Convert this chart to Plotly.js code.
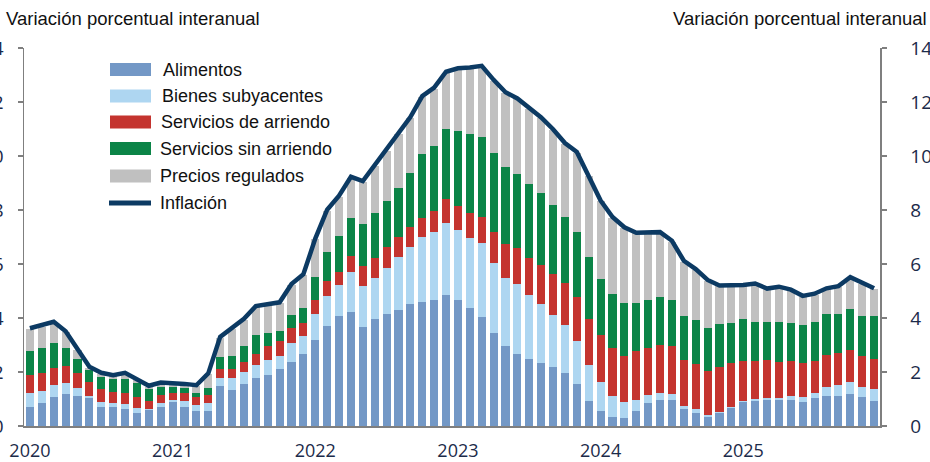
<!DOCTYPE html>
<html><head><meta charset="utf-8">
<script src="https://cdn.plot.ly/plotly-3.0.1.min.js"></script>
<style>html,body{margin:0;padding:0;background:#fff;}#chart{width:930px;height:462px;}</style>
</head><body><div id="chart"></div>
<script>
const anios = ['2020','2021','2022','2023','2024','2025'];
const numMeses = ['01','02','03','04','05','06','07','08','09','10','11','12'];
const meses = anios.flatMap(a => numMeses.map(m => a + '-' + m));

const alimentos = [0.72,0.85,1.06,1.20,1.12,1.03,0.72,0.69,0.62,0.49,0.59,0.72,
 0.88,0.72,0.57,0.57,1.48,1.33,1.55,1.77,1.90,2.10,2.38,2.67,
 3.17,3.72,4.07,4.23,3.66,3.95,4.16,4.31,4.52,4.60,4.67,4.85,
 4.67,4.37,4.02,3.46,2.96,2.68,2.47,2.32,2.17,1.98,1.55,0.94,
 0.56,0.35,0.28,0.56,0.84,0.97,0.97,0.63,0.50,0.32,0.47,0.65,
 0.90,0.94,0.96,0.96,0.96,0.90,1.02,1.11,1.11,1.19,1.06,0.94];
const bienes = [0.49,0.46,0.46,0.40,0.28,0.09,0.18,0.17,0.18,0.16,0.05,0.14,
 0.08,0.22,0.20,0.27,0.31,0.44,0.46,0.49,0.55,0.51,0.71,0.66,
 0.99,1.09,1.15,1.46,1.54,1.52,1.68,1.94,2.10,2.39,2.53,2.68,
 2.59,2.61,2.75,2.59,2.53,2.58,2.37,2.20,1.94,1.76,1.60,1.32,
 1.06,0.76,0.60,0.41,0.29,0.27,0.23,0.12,0.12,0.09,0.06,0.04,
 0.04,0.05,0.06,0.09,0.15,0.16,0.19,0.35,0.41,0.45,0.40,0.42];
const arriendo = [0.67,0.67,0.63,0.63,0.55,0.50,0.46,0.41,0.41,0.41,0.29,0.29,
 0.25,0.27,0.29,0.30,0.31,0.33,0.37,0.42,0.50,0.54,0.53,0.48,
 0.51,0.56,0.47,0.62,0.73,0.74,0.78,0.76,0.74,0.73,0.76,0.87,
 0.89,0.90,0.98,1.15,1.24,1.34,1.37,1.44,1.52,1.54,1.62,1.69,
 1.74,1.78,1.72,1.81,1.77,1.75,1.75,1.70,1.69,1.64,1.64,1.63,
 1.48,1.41,1.42,1.32,1.29,1.26,1.21,1.18,1.17,1.17,1.13,1.13];
const sinArriendo = [0.90,0.91,0.91,0.67,0.52,0.45,0.47,0.46,0.52,0.52,0.44,0.31,
 0.25,0.19,0.15,0.28,0.47,0.49,0.57,0.69,0.51,0.37,0.48,0.55,
 0.84,1.06,1.36,1.38,1.55,1.69,1.71,1.82,2.02,2.34,2.41,2.60,
 2.79,2.92,2.97,2.90,2.85,2.73,2.74,2.66,2.56,2.47,2.43,2.32,
 2.10,2.00,1.95,1.76,1.76,1.78,1.70,1.63,1.63,1.59,1.61,1.48,
 1.53,1.46,1.42,1.49,1.43,1.43,1.44,1.51,1.46,1.52,1.48,1.58];
const regulados = [0.80,0.79,0.76,0.57,0.34,0.09,0.11,0.12,0.21,0.14,0.09,0.12,
 0.11,0.13,0.27,0.50,0.70,1.01,0.99,1.04,1.02,1.03,1.13,1.23,
 1.40,1.55,1.45,1.51,1.56,1.74,1.85,1.98,2.03,2.13,2.13,2.09,
 2.28,2.45,2.59,2.69,2.75,2.77,2.80,2.78,2.77,2.70,2.92,2.98,
 2.86,2.82,2.78,2.59,2.47,2.38,2.18,2.01,1.84,1.74,1.39,1.37,
 1.24,1.39,1.20,1.27,1.19,1.04,1.01,0.92,1.00,1.15,1.20,1.00];
const inflacion = [3.62,3.72,3.86,3.51,2.85,2.19,1.97,1.88,1.97,1.75,1.49,1.61,
 1.60,1.56,1.51,1.95,3.30,3.63,3.97,4.44,4.51,4.58,5.26,5.62,
 6.94,8.01,8.53,9.23,9.07,9.67,10.21,10.84,11.44,12.22,12.53,13.12,
 13.25,13.28,13.34,12.82,12.36,12.13,11.78,11.43,10.99,10.48,10.15,9.28,
 8.35,7.74,7.36,7.16,7.16,7.18,6.86,6.12,5.81,5.41,5.20,5.20,
 5.22,5.28,5.09,5.16,5.05,4.82,4.90,5.10,5.18,5.51,5.30,5.10];

const nombres = ['Alimentos','Bienes subyacentes','Servicios de arriendo','Servicios sin arriendo','Precios regulados','Inflación'];
const colores = ['#7398C6','#AED6F1','#C4342F','#0B8447','#C0C0C0','#0C3A63'];
const series = [alimentos, bienes, arriendo, sinArriendo, regulados];

const traces = series.map((s, k) => ({
  type: 'bar', x: meses, y: s, name: nombres[k],
  marker: {color: colores[k], line: {width: 0}},
  showlegend: false, hoverinfo: 'skip'
}));
traces.push({
  type: 'scatter', mode: 'lines', x: meses, y: inflacion, name: nombres[5], yaxis: 'y2',
  line: {color: colores[5], width: 4.5, shape: 'linear'}, showlegend: false, hoverinfo: 'skip'
});

const L = 24, R = 880, T = 48, B = 426;
const px = v => (v - L) / (R - L);
const py = v => (B - v) / (B - T);

const yearTicks = anios.map(a => a + '-01');
const boundVals = Array.from({length: anios.length + 1}, (_, i) => i * 12 - 0.5);

const tickFont = {family: 'Open Sans, sans-serif', size: 19, color: '#1c2b4a'};
const xTickFont = {family: 'Open Sans, sans-serif', size: 18, color: '#1c2b4a'};
const axColor = '#7f7f7f';

const shapes = [];
const annotations = [];
const legendY = [69.5, 96, 122, 148.5, 176, 203];
for (let k = 0; k < 5; k++) {
  shapes.push({type: 'rect', xref: 'paper', yref: 'paper',
    x0: px(110), x1: px(151), y0: py(legendY[k] - 6.5), y1: py(legendY[k] + 6.5),
    fillcolor: colores[k], line: {width: 0}});
}
shapes.push({type: 'line', xref: 'paper', yref: 'paper',
  x0: px(109), x1: px(151), y0: py(legendY[5]), y1: py(legendY[5]),
  line: {color: colores[5], width: 5}});
const legendTextX = [161, 160, 159, 158, 158, 158];
for (let k = 0; k < 6; k++) {
  annotations.push({xref: 'paper', yref: 'paper', x: px(legendTextX[k]), y: py(legendY[k]),
    xanchor: 'left', yanchor: 'middle', text: nombres[k], showarrow: false,
    font: {family: 'Liberation Sans, Arial, sans-serif', size: 18, color: '#111'}});
}
annotations.push({xref: 'paper', yref: 'paper', x: px(4), y: py(18), xanchor: 'left', yanchor: 'middle',
  text: 'Variación porcentual interanual', showarrow: false,
  font: {family: 'Liberation Sans, Arial, sans-serif', size: 18.5, color: '#111'}});
annotations.push({xref: 'paper', yref: 'paper', x: px(929), y: py(18), xanchor: 'right', yanchor: 'middle',
  text: 'Variación porcentual interanual', showarrow: false,
  font: {family: 'Liberation Sans, Arial, sans-serif', size: 18.5, color: '#111'}});

const layout = {
  width: 930, height: 462,
  margin: {l: L, r: 930 - R, t: T, b: 462 - B, pad: 0},
  paper_bgcolor: '#fff', plot_bgcolor: '#fff',
  barmode: 'stack', bargap: 0.32,
  showlegend: false,
  xaxis: {type: 'category', range: [-0.5, meses.length - 0.5], tickmode: 'array',
    tickvals: yearTicks, ticktext: anios, ticks: '', showgrid: false, zeroline: false,
    showline: true, linecolor: axColor, linewidth: 1.5, tickfont: xTickFont,
    ticklabelstandoff: 8, automargin: false, fixedrange: true},
  xaxis2: {overlaying: 'x', anchor: 'y', side: 'bottom', type: 'linear',
    range: [-0.5, meses.length - 0.5], tickmode: 'array', tickvals: boundVals,
    showticklabels: false, ticks: 'outside', ticklen: 6, tickwidth: 1.5, tickcolor: axColor,
    showgrid: false, zeroline: false, showline: false, automargin: false},
  yaxis: {range: [0, 14], tickmode: 'array', tickvals: [0,2,4,6,8,10,12,14],
    ticks: 'outside', ticklen: 5, tickwidth: 1.5, tickcolor: axColor,
    showline: true, linecolor: axColor, linewidth: 1.5, showgrid: false, zeroline: false,
    tickfont: tickFont, ticklabelstandoff: 10, automargin: false},
  yaxis2: {overlaying: 'y', side: 'right', range: [0, 14], tickmode: 'array', tickvals: [0,2,4,6,8,10,12,14],
    ticks: 'outside', ticklen: 5, tickwidth: 1.5, tickcolor: axColor,
    showline: true, linecolor: axColor, linewidth: 1.5, showgrid: false, zeroline: false,
    tickfont: tickFont, ticklabelstandoff: 20, automargin: false},
  shapes: shapes, annotations: annotations
};

Plotly.newPlot('chart', traces, layout, {staticPlot: true, displayModeBar: false});
</script></body></html>
